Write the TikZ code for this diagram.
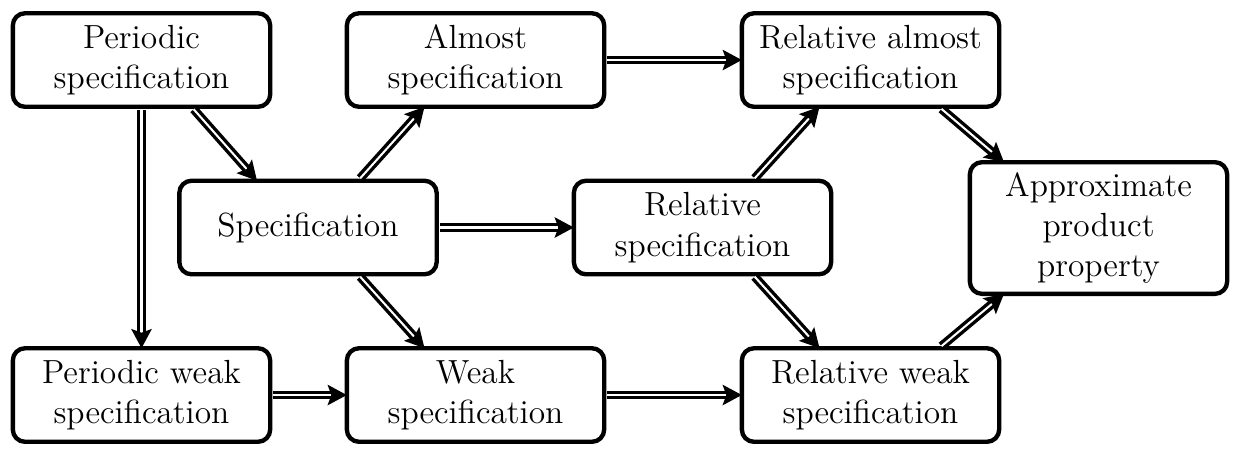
\documentclass[tikz,border=0pt]{standalone}
\usetikzlibrary{arrows.meta,calc}
\begin{document}
\begin{tikzpicture}[x=0.3676pt,y=-0.3676pt,
  box/.style={draw=black,line width=1.6pt,rounded corners=4.5pt,fill=white,
    minimum width=94.6pt,minimum height=34.4pt,inner sep=0pt,outer sep=0pt,
    align=center,font=\fontsize{12.3}{14.8}\selectfont},
  imp/.style={double,line width=1.25pt,double distance=0.75pt,
    -{Stealth[length=7pt,width=7.4pt,inset=1.3pt]},shorten <=1.2pt}]
\useasboundingbox (0,0) rectangle (1239,457);
\node[box] (ps)  at (141.5,60)   {Periodic\\specification};
\node[box] (as)  at (475.5,60)   {Almost\\specification};
\node[box] (ras) at (870.5,60)   {Relative almost\\specification};
\node[box] (sp)  at (308,227.5)  {Specification};
\node[box] (rs)  at (702.5,227.5){Relative\\specification};
\node[box,minimum height=48.4pt] (app) at (1098.5,228) {Approximate\\product\\property};
\node[box] (pws) at (141.5,395)  {Periodic weak\\specification};
\node[box] (ws)  at (475.5,395)  {Weak\\specification};
\node[box] (rws) at (870.5,395)  {Relative weak\\specification};
\draw[imp] (ps.south) -- (pws.north);
\draw[imp] ($(ps.south)+(50,0)$) -- ($(sp.north)+(-51,0)$);
\draw[imp] ($(sp.north)+(50,0)$) -- ($(as.south)+(-51,0)$);
\draw[imp] (as.east) -- (ras.west);
\draw[imp] (sp.east) -- (rs.west);
\draw[imp] ($(sp.south)+(50,0)$) -- ($(ws.north)+(-51,0)$);
\draw[imp] (pws.east) -- (ws.west);
\draw[imp] (ws.east) -- (rws.west);
\draw[imp] ($(rs.north)+(50,0)$) -- ($(ras.south)+(-51,0)$);
\draw[imp] ($(rs.south)+(50,0)$) -- ($(rws.north)+(-51,0)$);
\draw[imp] ($(ras.south)+(68.5,0)$) -- ($(app.north)+(-94.5,0)$);
\draw[imp] ($(rws.north)+(68.5,0)$) -- ($(app.south)+(-94.5,0)$);
\end{tikzpicture}
\end{document}
